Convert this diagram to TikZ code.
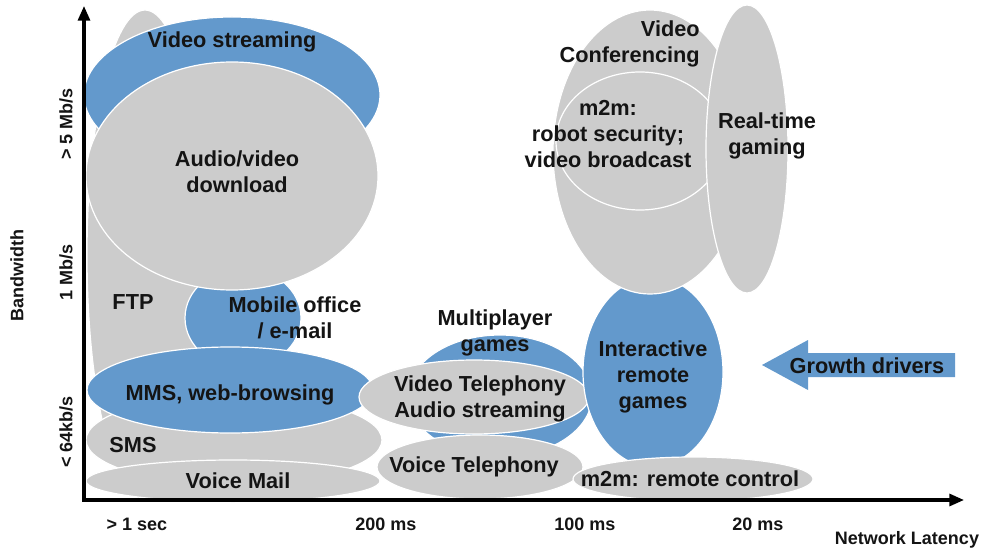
\documentclass[tikz,border=0pt]{standalone}
\usepackage{fontspec}
\setmainfont{Liberation Sans}
\usetikzlibrary{arrows.meta}
\definecolor{bl}{RGB}{99,153,204}
\definecolor{gr}{RGB}{204,204,204}
\definecolor{tx}{RGB}{20,20,20}
\begin{document}
\begin{tikzpicture}[x=0.75pt,y=-0.75pt,
  blob/.style={fill=gr,draw=white,line width=0.9pt},
  bblob/.style={fill=bl,draw=white,line width=0.9pt},
  lab/.style={font=\bfseries\fontsize{16.3}{19.5}\selectfont,align=center,inner sep=0pt,text=tx},
  axlab/.style={font=\bfseries\fontsize{13.5}{15}\selectfont,inner sep=0pt,text=tx},
  axisline/.style={line width=2.3pt,{Triangle[length=11pt,width=9pt]}-{Triangle[length=11pt,width=9pt]}}]
\useasboundingbox (0,0) rectangle (981,552);
% left group
\path[blob] (145,255) ellipse [x radius=58, y radius=245];
\path[bblob] (232,95) ellipse [x radius=148, y radius=78];
\path[bblob] (243,318) ellipse [x radius=58, y radius=50];
\path[blob] (232,176) ellipse [x radius=146, y radius=114];
\path[blob] (234,440) ellipse [x radius=148, y radius=45];
\path[bblob] (230,390) ellipse [x radius=143, y radius=43];
\path[blob] (233,481) ellipse [x radius=147, y radius=21];
% middle group
\path[bblob] (500,396) ellipse [x radius=92, y radius=61];
\path[blob] (474,397) ellipse [x radius=115, y radius=37];
\path[blob] (480,467) ellipse [x radius=103, y radius=32];
\path[bblob] (653,372) ellipse [x radius=70, y radius=95];
\path[blob] (693,479) ellipse [x radius=120, y radius=22];
% right top group
\path[blob] (650,152) ellipse [x radius=97, y radius=142];
\path[blob] (640,141) ellipse [x radius=84, y radius=69];
\path[blob] (747,149) ellipse [x radius=41, y radius=144];
% growth arrow
\fill[bl] (955,353) coordinate (ga) -- (808,353) -- (808,340) -- (762,365) -- (808,390) -- (808,377) -- (955,377) -- cycle;
\node[lab] (growth) at (867,366) {Growth drivers};
% labels
\node[lab] (ftp) at (133,302) {FTP};
\node[lab] (vstream) at (232,42) {Video streaming};
\node[lab] (avdl) at (237,172) {Audio/video\\download};
\node[lab] (mobile) at (295,318) {Mobile office\\/ e-mail};
\node[lab] (mms) at (230,395) {MMS, web-browsing};
\node[lab] (sms) at (133,445) {SMS};
\node[lab] (vmail) at (238,481) {Voice Mail};
\node[lab] (multi) at (495,333) {Multiplayer\\games};
\node[lab] (vtel) at (480,399) {Video Telephony\\Audio streaming};
\node[lab] (voicetel) at (474,467) {Voice Telephony};
\node[lab] (irg) at (653,377) {Interactive\\remote\\games};
\node[lab] (m2mrc) at (690,479) {m2m: remote control};
\node[lab,align=right,anchor=east] (vconf) at (700,44) {Video\\Conferencing};
\node[lab] (m2mrob) at (608,134) {m2m:\\robot security;\\video broadcast};
\node[lab] (rtg) at (767,136) {Real-time\\gaming};
% axes
\coordinate (ytop) at (84,6);
\coordinate (orig) at (84,500);
\coordinate (xend) at (964,500);
\draw[axisline] (ytop) -- (orig) -- (xend);
\node[axlab,rotate=90] (y5) at (66,124) {> 5 Mb/s};
\node[axlab,rotate=90] (y1) at (66,272) {1 Mb/s};
\node[axlab,rotate=90] (y64) at (66,432) {< 64kb/s};
\node[axlab,rotate=90] (bw) at (17,276) {Bandwidth};
\node[axlab] (x1) at (137,524) {> 1 sec};
\node[axlab] (x200) at (386,524) {200 ms};
\node[axlab] (x100) at (585,524) {100 ms};
\node[axlab] (x20) at (758,524) {20 ms};
\node[axlab] (nl) at (907,540) {Network Latency};
\end{tikzpicture}
\end{document}
